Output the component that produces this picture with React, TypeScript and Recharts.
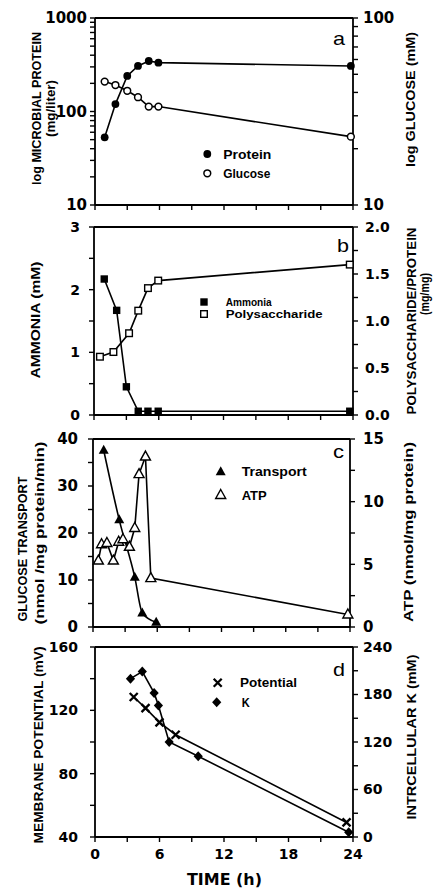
import React from "react";
import { LineChart, Line, XAxis, YAxis } from "recharts";

// panel a: protein (mg/liter, log) and glucose (mM, log)
const protTime = [0.9, 1.9, 3, 4, 5, 5.9, 23.8];
const protein = [53, 120, 240, 307, 347, 333, 307];
const glucTime = [0.9, 1.9, 3, 4, 5, 5.9, 23.8];
const glucose = [45.7, 43.8, 40.8, 37.7, 33.6, 33.6, 23.2];

// panel b: ammonia (mM) and polysaccharide/protein (mg/mg)
const ammTime = [0.95, 2.1, 3, 4.1, 5, 5.95, 23.7];
const ammonia = [2.17, 1.67, 0.45, 0.06, 0.06, 0.06, 0.06];
const polyTime = [0.55, 1.8, 3.25, 4.1, 5, 5.95, 23.7];
const polysaccharide = [0.62, 0.67, 0.87, 1.11, 1.35, 1.43, 1.6];

// panel c: glucose transport and ATP
const transTime = [1, 2.45, 3.9, 4.6, 5.9];
const transport = [37.6, 22.8, 10.6, 3.0, 1.0];
const atpTime = [0.5, 0.8, 1.3, 1.9, 2.4, 2.8, 3.4, 3.9, 4.3, 4.9, 5.4, 23.8];
const atp = [5.3, 6.6, 6.7, 5.3, 6.8, 7.0, 6.4, 7.9, 12.2, 13.6, 3.9, 1.0];

// panel d: membrane potential (mV) and intracellular K (mM)
const potTime = [3.6, 4.7, 6, 7.5, 23.4];
const potential = [128.4, 121.4, 112.4, 104.6, 49.2];
const kTime = [3.3, 4.4, 5.5, 5.9, 6.9, 9.6, 23.6];
const potassium = [200, 209, 182, 166, 120, 102, 6];

const timeTicks = [0, 3, 6, 9, 12, 15, 18, 21, 24];
const timeLabels = [0, 6, 12, 18, 24];
const logTicksA = [10, 20, 30, 40, 50, 60, 70, 80, 90, 100, 200, 300, 400, 500, 600, 700, 800, 900, 1000];
const logTicksB = [10, 20, 30, 40, 50, 60, 70, 80, 90, 100];
const ammTicks = [0, 0.5, 1, 1.5, 2, 2.5, 3];
const polyTicks = [0, 0.25, 0.5, 0.75, 1, 1.25, 1.5, 1.75, 2];
const transTicks = [0, 5, 10, 15, 20, 25, 30, 35, 40];
const atpTicks = [0, 2.5, 5, 7.5, 10, 12.5, 15];
const potTicks = [40, 60, 80, 100, 120, 140, 160];
const kTicks = [0, 30, 60, 90, 120, 150, 180, 210, 240];

const zip = (t: number[], v: number[]) => t.map((x, i) => ({ t: x, v: v[i] }));

const FONT = "'DejaVu Sans', sans-serif";
const TITLE_FONT = "'Liberation Sans', Arial, sans-serif";
const axisLine = { stroke: "#000", strokeWidth: 1.8 };
const tickLine = { stroke: "#000", strokeWidth: 1.4 };
const tickFont = (size: number) => ({ fill: "#000", fontSize: size, fontWeight: 700, fontFamily: FONT });
const only = (keep: number[], fmt = (v: number) => String(v)) => (v: number) =>
  keep.some((k) => Math.abs(k - v) < 1e-9) ? fmt(v) : "";

function Marker({ x, y, shape }: { x: number; y: number; shape: string }) {
  const k = "#000";
  switch (shape) {
    case "disc":
      return <circle cx={x} cy={y} r={3.9} fill={k} />;
    case "ring":
      return <circle cx={x} cy={y} r={3.4} fill="#fff" stroke={k} strokeWidth={1.5} />;
    case "sq":
      return <rect x={x - 3.7} y={y - 3.7} width={7.4} height={7.4} fill={k} />;
    case "osq":
      return <rect x={x - 3.3} y={y - 3.3} width={6.6} height={6.6} fill="#fff" stroke={k} strokeWidth={1.4} />;
    case "tri":
      return <path d={`M${x},${y - 5.5}L${x + 5},${y + 3.5}L${x - 5},${y + 3.5}Z`} fill={k} />;
    case "otri":
      return <path d={`M${x},${y - 5.5}L${x + 5},${y + 3.5}L${x - 5},${y + 3.5}Z`} fill="#fff" stroke={k} strokeWidth={1.4} />;
    case "dia":
      return <path d={`M${x},${y - 5}L${x + 4.6},${y}L${x},${y + 5}L${x - 4.6},${y}Z`} fill={k} />;
    case "x":
      return <path d={`M${x - 4},${y - 4}L${x + 4},${y + 4}M${x + 4},${y - 4}L${x - 4},${y + 4}`} stroke={k} strokeWidth={2.3} />;
  }
  return null;
}

const dot = (shape: string) => (p: any) => <Marker key={`m${p.index}`} x={p.cx} y={p.cy} shape={shape} />;

function TopFrame() {
  return (
    <XAxis xAxisId="top" orientation="top" type="number" domain={[0, 24]} height={1} tick={false} tickLine={false} axisLine={axisLine} />
  );
}

function VText({ x, y, len, size = 13, children }: any) {
  return (
    <text
      transform={`translate(${x},${y}) rotate(-90)`}
      textAnchor="middle"
      dominantBaseline="central"
      textLength={len}
      lengthAdjust="spacingAndGlyphs"
      fontSize={size}
      fontWeight={700}
      fontFamily={TITLE_FONT}
      fill="#000"
    >
      {children}
    </text>
  );
}

function HText({ x, y, len, size = 13, children, weight = 700, family = TITLE_FONT }: any) {
  return (
    <text x={x} y={y} dominantBaseline="central" textLength={len} lengthAdjust="spacingAndGlyphs" fontSize={size} fontWeight={weight} fontFamily={family} fill="#000">
      {children}
    </text>
  );
}

export default function App() {
  const lineProps = { stroke: "#000", strokeWidth: 1.6, isAnimationActive: false };
  const xBottom = (labels: boolean, h: number) => (
    <XAxis
      dataKey="t"
      type="number"
      domain={[0, 24]}
      ticks={timeTicks}
      interval={0}
      height={h}
      tickSize={5}
      tickMargin={7}
      tickFormatter={labels ? only(timeLabels) : () => ""}
      tick={tickFont(14)}
      axisLine={axisLine}
      tickLine={tickLine}
    />
  );

  return (
    <div style={{ position: "absolute", left: 0, top: 0, width: 436, height: 890, background: "#fff" }}>
      {/* a */}
      <div style={{ position: "absolute", left: 0, top: 0 }}>
        <LineChart width={436} height={217} margin={{ top: 17, right: 0, bottom: 0, left: 0 }}>
          {TopFrame()}
          {xBottom(false, 12)}
          <YAxis yAxisId="l" scale="log" domain={[10, 1000]} ticks={logTicksA} interval={0} width={95} tickSize={5} tickMargin={3}
            tickFormatter={only([10, 100, 1000])} tick={tickFont(15)} axisLine={axisLine} tickLine={tickLine} />
          <YAxis yAxisId="r" orientation="right" scale="log" domain={[10, 100]} ticks={logTicksB} interval={0} width={83} tickSize={5} tickMargin={5}
            tickFormatter={only([10, 100])} tick={tickFont(15)} axisLine={axisLine} tickLine={tickLine} />
          <Line yAxisId="l" data={zip(protTime, protein)} dataKey="v" type="linear" dot={dot("disc")} {...lineProps} />
          <Line yAxisId="r" data={zip(glucTime, glucose)} dataKey="v" type="linear" dot={dot("ring")} {...lineProps} />
        </LineChart>
      </div>
      {/* b */}
      <div style={{ position: "absolute", left: 0, top: 215 }}>
        <LineChart width={436} height={212} margin={{ top: 11, right: 0, bottom: 0, left: 0 }}>
          {TopFrame()}
          {xBottom(false, 12)}
          <YAxis yAxisId="l" type="number" domain={[0, 3]} ticks={ammTicks} interval={0} width={94} tickSize={5} tickMargin={9}
            tickFormatter={only([0, 1, 2, 3])} tick={tickFont(14)} axisLine={axisLine} tickLine={tickLine} />
          <YAxis yAxisId="r" orientation="right" type="number" domain={[0, 2]} ticks={polyTicks} interval={0} width={83} tickSize={5} tickMargin={7}
            tickFormatter={only([0, 0.5, 1, 1.5, 2], (v) => v.toFixed(1))} tick={tickFont(14)} axisLine={axisLine} tickLine={tickLine} />
          <Line yAxisId="l" data={zip(ammTime, ammonia)} dataKey="v" type="linear" dot={dot("sq")} {...lineProps} />
          <Line yAxisId="r" data={zip(polyTime, polysaccharide)} dataKey="v" type="linear" dot={dot("osq")} {...lineProps} />
        </LineChart>
      </div>
      {/* c */}
      <div style={{ position: "absolute", left: 0, top: 430 }}>
        <LineChart width={436} height={209} margin={{ top: 8, right: 0, bottom: 0, left: 0 }}>
          {TopFrame()}
          {xBottom(false, 12)}
          <YAxis yAxisId="l" type="number" domain={[0, 40]} ticks={transTicks} interval={0} width={93} tickSize={5} tickMargin={10}
            tickFormatter={only([0, 10, 20, 30, 40])} tick={tickFont(15)} axisLine={axisLine} tickLine={tickLine} />
          <YAxis yAxisId="r" orientation="right" type="number" domain={[0, 15]} ticks={atpTicks} interval={0} width={86} tickSize={5} tickMargin={8}
            tickFormatter={only([0, 5, 10, 15])} tick={tickFont(15)} axisLine={axisLine} tickLine={tickLine} />
          <Line yAxisId="l" data={zip(transTime, transport)} dataKey="v" type="monotone" dot={dot("tri")} {...lineProps} />
          <Line yAxisId="r" data={zip(atpTime, atp)} dataKey="v" type="linear" dot={dot("otri")} {...lineProps} />
        </LineChart>
      </div>
      {/* d */}
      <div style={{ position: "absolute", left: 0, top: 640 }}>
        <LineChart width={436} height={225} margin={{ top: 6, right: 0, bottom: 0, left: 0 }}>
          {TopFrame()}
          {xBottom(true, 28)}
          <YAxis yAxisId="l" type="number" domain={[40, 160]} ticks={potTicks} interval={0} width={95} tickSize={5} tickMargin={12}
            tickFormatter={only([40, 80, 120, 160])} tick={tickFont(14)} axisLine={axisLine} tickLine={tickLine} />
          <YAxis yAxisId="r" orientation="right" type="number" domain={[0, 240]} ticks={kTicks} interval={0} width={83} tickSize={5} tickMargin={5}
            tickFormatter={only([0, 60, 120, 180, 240])} tick={tickFont(14)} axisLine={axisLine} tickLine={tickLine} />
          <Line yAxisId="l" data={zip(potTime, potential)} dataKey="v" type="linear" dot={dot("x")} {...lineProps} />
          <Line yAxisId="r" data={zip(kTime, potassium)} dataKey="v" type="linear" dot={dot("dia")} {...lineProps} />
        </LineChart>
      </div>

      <svg width={436} height={890} style={{ position: "absolute", left: 0, top: 0, pointerEvents: "none" }}>
        {/* axis titles */}
        <VText x={36} y={108.5} len={153}>log MICROBIAL PROTEIN</VText>
        <VText x={50.5} y={108.5} len={57}>(mg/liter)</VText>
        <VText x={410} y={99.5} len={135}>log GLUCOSE (mM)</VText>
        <VText x={35} y={320} len={117}>AMMONIA (mM)</VText>
        <VText x={411} y={321} len={187}>POLYSACCHARIDE/PROTEIN</VText>
        <VText x={424} y={294} len={42}>(mg/mg)</VText>
        <VText x={22} y={549} len={145}>GLUCOSE TRANSPORT</VText>
        <VText x={39} y={533} len={183}>(nmol /mg protein/min)</VText>
        <VText x={408} y={532} len={180}>ATP (nmol/mg protein)</VText>
        <VText x={38} y={745} len={197}>MEMBRANE POTENTIAL (mV)</VText>
        <VText x={411} y={737} len={165}>INTRCELLULAR K (mM)</VText>
        <HText x={187} y={880} len={75} size={15} family={FONT}>TIME (h)</HText>

        {/* legends */}
        <Marker x={207.3} y={154} shape="disc" />
        <HText x={223.3} y={154} len={48}>Protein</HText>
        <Marker x={207.3} y={173.3} shape="ring" />
        <HText x={223.3} y={173.3} len={47}>Glucose</HText>

        <Marker x={204} y={302} shape="sq" />
        <HText x={225.7} y={302} len={46} size={11}>Ammonia</HText>
        <Marker x={204} y={314} shape="osq" />
        <HText x={225.7} y={314} len={97} size={11}>Polysaccharide</HText>

        <Marker x={220.7} y={471.7} shape="tri" />
        <HText x={241.7} y={471.7} len={65}>Transport</HText>
        <Marker x={220.7} y={495} shape="otri" />
        <HText x={241.7} y={495} len={25}>ATP</HText>

        <Marker x={217.7} y={682.7} shape="x" />
        <HText x={240} y={682.7} len={57}>Potential</HText>
        <Marker x={216.7} y={702.3} shape="dia" />
        <HText x={241.7} y={702.3} len={8}>K</HText>

        {/* panel letters */}
        <HText x={333} y={38} len={12} size={19} weight={400}>a</HText>
        <HText x={337} y={245} len={12} size={19} weight={400}>b</HText>
        <HText x={333} y={451} len={11} size={19} weight={400}>c</HText>
        <HText x={333} y={669} len={12} size={19} weight={400}>d</HText>
      </svg>
    </div>
  );
}
